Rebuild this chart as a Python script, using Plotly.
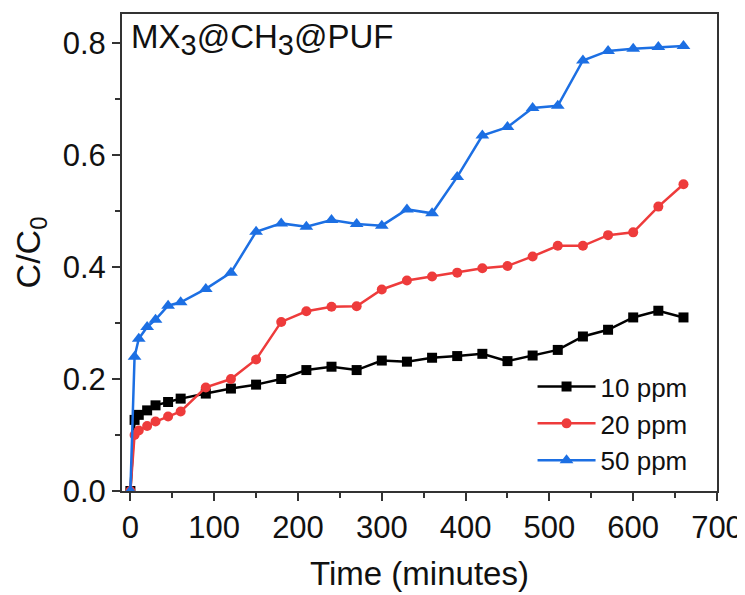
import plotly.graph_objects as go

t = [0, 5, 10, 20, 30, 45, 60, 90, 120, 150, 180, 210, 240, 270, 300, 330,
     360, 390, 420, 450, 480, 510, 540, 570, 600, 630, 660]
c10 = [0, 0.127, 0.136, 0.144, 0.153, 0.159, 0.165, 0.174, 0.183, 0.19, 0.2,
       0.216, 0.222, 0.216, 0.233, 0.231, 0.238, 0.241, 0.245, 0.232, 0.242,
       0.252, 0.276, 0.288, 0.31, 0.322, 0.31]
c20 = [0, 0.10, 0.108, 0.116, 0.124, 0.133, 0.142, 0.185, 0.2, 0.235, 0.302,
       0.321, 0.329, 0.33, 0.36, 0.376, 0.383, 0.39, 0.398, 0.402, 0.419,
       0.438, 0.438, 0.457, 0.462, 0.508, 0.548]
c50 = [0, 0.24, 0.272, 0.293, 0.306, 0.331, 0.337, 0.361, 0.39, 0.463, 0.478,
       0.472, 0.484, 0.477, 0.474, 0.503, 0.496, 0.561, 0.635, 0.65, 0.684,
       0.688, 0.769, 0.786, 0.79, 0.793, 0.795]
series_names = ["10 ppm", "20 ppm", "50 ppm"]

FONT = "Arial, Liberation Sans, sans-serif"

fig = go.Figure()
fig.add_trace(go.Scatter(x=t, y=c10, name=series_names[0], mode="lines+markers",
                         line=dict(color="#000000", width=2.5),
                         marker=dict(symbol="square", size=10, color="#000000")))
fig.add_trace(go.Scatter(x=t, y=c20, name=series_names[1], mode="lines+markers",
                         line=dict(color="#EE3B3B", width=2.5),
                         marker=dict(symbol="circle", size=10, color="#EE3B3B")))
fig.add_trace(go.Scatter(x=t, y=c50, name=series_names[2], mode="lines+markers",
                         line=dict(color="#1C6FE3", width=2.5),
                         marker=dict(symbol="triangle-up", size=12, color="#1C6FE3")))

axis_common = dict(showline=True, linecolor="#333333", linewidth=2, mirror=True,
                   ticks="outside", ticklen=8, tickwidth=2, tickcolor="#333333",
                   showgrid=False, zeroline=False,
                   tickfont=dict(family=FONT, size=31, color="#111111"))

fig.update_xaxes(range=[-10, 700], dtick=100, tick0=0,
                 minor=dict(ticks="outside", ticklen=5, tickwidth=2, dtick=50,
                            tickcolor="#333333", showgrid=False),
                 title=dict(text="Time (minutes)", font=dict(family=FONT, size=33, color="#111111"),
                            standoff=18),
                 **axis_common)
fig.update_yaxes(range=[0, 0.852], dtick=0.2, tick0=0, tickformat=".1f",
                 minor=dict(ticks="outside", ticklen=5, tickwidth=2, dtick=0.1,
                            tickcolor="#333333", showgrid=False),
                 title=dict(text="C/C<sub>0</sub>", font=dict(family=FONT, size=34, color="#111111"),
                            standoff=12),
                 **axis_common)

fig.add_annotation(text="MX<sub><span style='font-size:29px'>3</span></sub>@CH<sub><span style='font-size:29px'>3</span></sub>@PUF",
                   xref="paper", yref="paper",
                   x=0.012, y=0.995, xanchor="left", yanchor="top", showarrow=False,
                   font=dict(family=FONT, size=33, color="#111111"))

fig.update_layout(width=745, height=595, plot_bgcolor="white", paper_bgcolor="white",
                  margin=dict(l=114, r=36, t=4, b=112),
                  legend=dict(x=0.69, y=0.268, xanchor="left", yanchor="top",
                              bgcolor="rgba(0,0,0,0)", itemwidth=58,
                              font=dict(family=FONT, size=26, color="#111111"),
                              tracegroupgap=0))

fig.write_html("out.html")
